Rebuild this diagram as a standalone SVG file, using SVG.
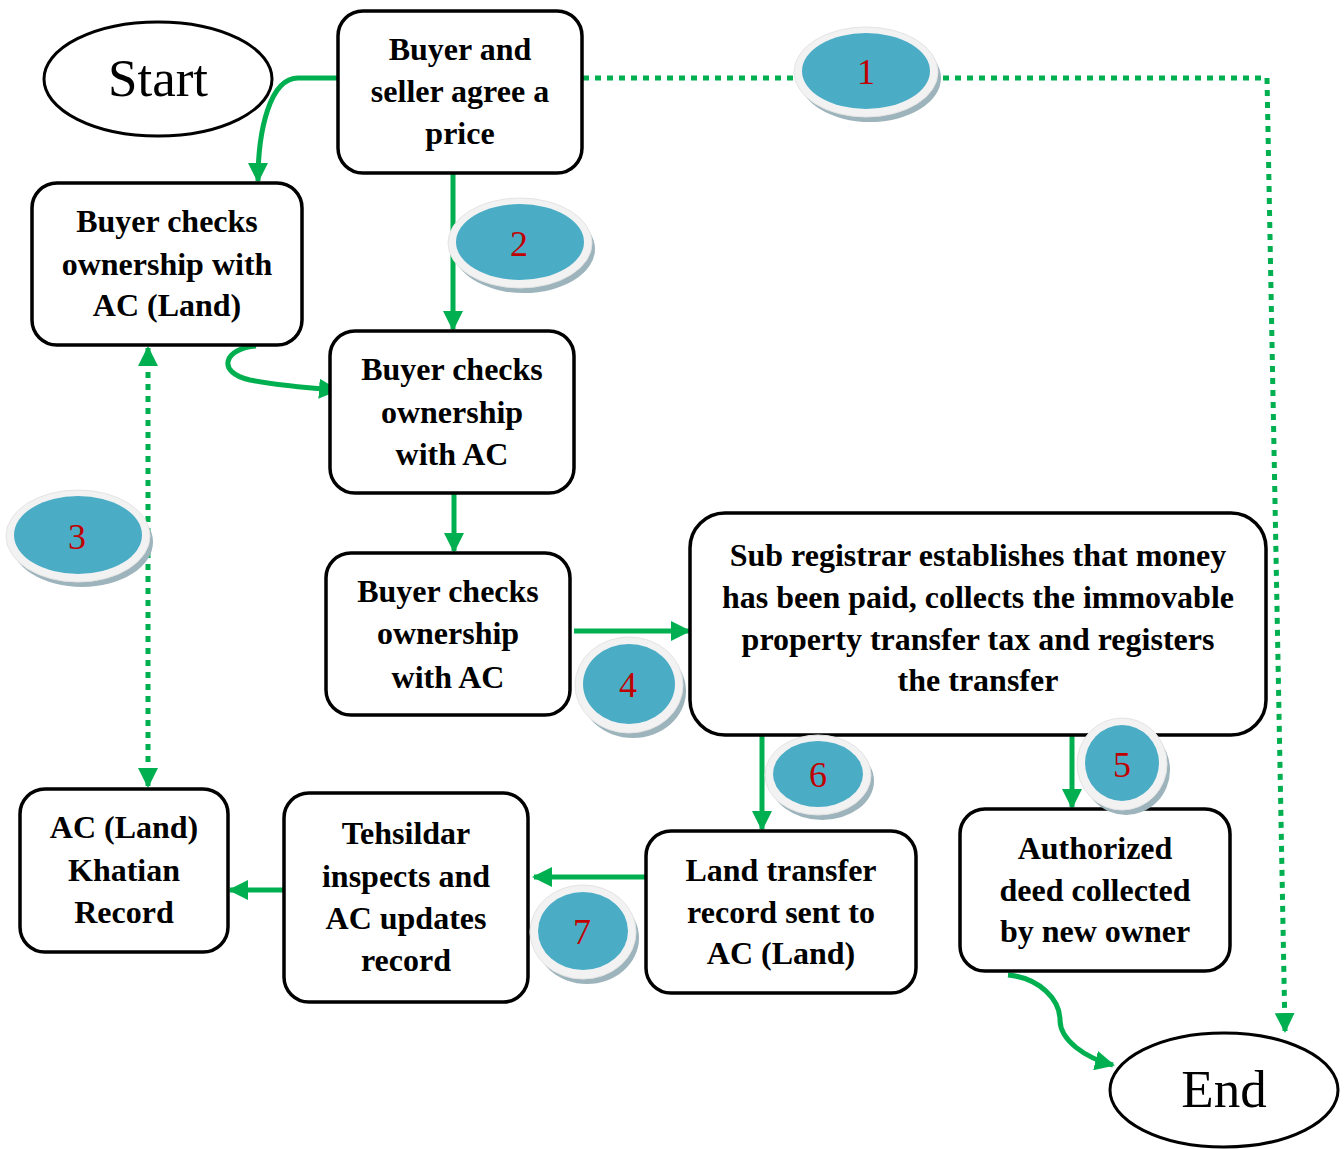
<svg xmlns="http://www.w3.org/2000/svg" width="1344" height="1149" viewBox="0 0 1344 1149">
<style>
.box{fill:#fff;stroke:#000;stroke-width:3.5}
.t{font-family:"Liberation Serif","Times New Roman",serif;font-weight:bold;font-size:32px;text-anchor:middle;fill:#000}
.big{font-family:"Liberation Serif","Times New Roman",serif;font-size:53px;text-anchor:middle;fill:#000}
.num{font-family:"Liberation Serif","Times New Roman",serif;font-size:36px;text-anchor:middle;fill:#C00000}
.g{fill:none;stroke:#00B050;stroke-width:5}
.d{fill:none;stroke:#00B050;stroke-width:5;stroke-dasharray:6 6}
.sh{fill:#9DB4BD}
.rim{fill:#F2F2F2;stroke:#E4E4E4;stroke-width:1}
.in{fill:#4BACC6}
</style>
<defs>
<marker id="a" viewBox="0 0 10 10" refX="9" refY="5" markerWidth="4" markerHeight="4" orient="auto-start-reverse" markerUnits="strokeWidth">
<path d="M0,0 L10,5 L0,10 z" fill="#00B050"/>
</marker>
</defs>

<g id="connectors">
<path class="g" d="M337,78 H298 C270,78 258,130 258,181" marker-end="url(#a)"/>
<path class="g" d="M453,173 V329" marker-end="url(#a)"/>
<path class="g" d="M256,346 C225,348 215,372 250,380 C280,386 310,388 337,390" marker-end="url(#a)"/>
<path class="g" d="M454,493 V551" marker-end="url(#a)"/>
<path class="g" d="M574,631 H689" marker-end="url(#a)"/>
<path class="g" d="M762,735 V829" marker-end="url(#a)"/>
<path class="g" d="M1072,735 V807" marker-end="url(#a)"/>
<path class="g" d="M646,877 H534" marker-end="url(#a)"/>
<path class="g" d="M306,890 H230" marker-end="url(#a)"/>
<path class="g" d="M1008,975 C1040,978 1060,1000 1060,1020 C1060,1040 1085,1058 1113,1065" marker-end="url(#a)"/>
<path class="d" d="M583,78 H1267 L1285,1031" marker-end="url(#a)"/>
<path class="d" d="M148,348 V786" marker-start="url(#a)" marker-end="url(#a)"/>
</g>

<g id="start">
<ellipse cx="158" cy="79" rx="114" ry="57" fill="#fff" stroke="#000" stroke-width="3"/>
<text class="big" x="158" y="96">Start</text>
</g>
<g id="end">
<ellipse cx="1224" cy="1090" rx="114" ry="57" fill="#fff" stroke="#000" stroke-width="3"/>
<text class="big" x="1224" y="1107">End</text>
</g>

<g id="agree">
<rect class="box" x="338" y="11" width="244" height="162" rx="25"/>
<text class="t" x="460" y="60">Buyer and</text>
<text class="t" x="460" y="102">seller agree a</text>
<text class="t" x="460" y="144">price</text>
</g>
<g id="checkLand">
<rect class="box" x="32" y="183" width="270" height="162" rx="25"/>
<text class="t" x="167" y="232">Buyer checks</text>
<text class="t" x="167" y="275">ownership with</text>
<text class="t" x="167" y="316">AC (Land)</text>
</g>
<g id="checkAC1">
<rect class="box" x="330" y="331" width="244" height="162" rx="25"/>
<text class="t" x="452" y="380">Buyer checks</text>
<text class="t" x="452" y="423">ownership</text>
<text class="t" x="452" y="465">with AC</text>
</g>
<g id="checkAC2">
<rect class="box" x="326" y="553" width="244" height="162" rx="25"/>
<text class="t" x="448" y="602">Buyer checks</text>
<text class="t" x="448" y="644">ownership</text>
<text class="t" x="448" y="688">with AC</text>
</g>
<g id="subregistrar">
<rect class="box" x="690" y="513" width="576" height="222" rx="35"/>
<text class="t" x="978" y="566">Sub registrar establishes that money</text>
<text class="t" x="978" y="608">has been paid, collects the immovable</text>
<text class="t" x="978" y="650">property transfer tax and registers</text>
<text class="t" x="978" y="691">the transfer</text>
</g>
<g id="khatian">
<rect class="box" x="20" y="789" width="208" height="163" rx="25"/>
<text class="t" x="124" y="838">AC (Land)</text>
<text class="t" x="124" y="881">Khatian</text>
<text class="t" x="124" y="923">Record</text>
</g>
<g id="tehsildar">
<rect class="box" x="284" y="793" width="244" height="209" rx="25"/>
<text class="t" x="406" y="844">Tehsildar</text>
<text class="t" x="406" y="887">inspects and</text>
<text class="t" x="406" y="929">AC updates</text>
<text class="t" x="406" y="971">record</text>
</g>
<g id="landtransfer">
<rect class="box" x="646" y="831" width="270" height="162" rx="25"/>
<text class="t" x="781" y="881">Land transfer</text>
<text class="t" x="781" y="923">record sent to</text>
<text class="t" x="781" y="964">AC (Land)</text>
</g>
<g id="authorized">
<rect class="box" x="960" y="809" width="270" height="162" rx="25"/>
<text class="t" x="1095" y="859">Authorized</text>
<text class="t" x="1095" y="901">deed collected</text>
<text class="t" x="1095" y="942">by new owner</text>
</g>

<g id="badge1">
<ellipse class="sh" cx="870" cy="78" rx="71" ry="44"/>
<ellipse class="rim" cx="866" cy="72" rx="72" ry="45"/>
<ellipse class="in" cx="866" cy="71" rx="64" ry="38"/>
<text class="num" x="866" y="84">1</text>
</g>
<g id="badge2">
<ellipse class="sh" cx="524" cy="249" rx="71" ry="44"/>
<ellipse class="rim" cx="520" cy="243" rx="72" ry="45"/>
<ellipse class="in" cx="520" cy="242" rx="64" ry="38"/>
<text class="num" x="519" y="256">2</text>
</g>
<g id="badge3">
<ellipse class="sh" cx="82" cy="542" rx="71" ry="45"/>
<ellipse class="rim" cx="78" cy="536" rx="72" ry="46"/>
<ellipse class="in" cx="78" cy="535" rx="64" ry="39"/>
<text class="num" x="77" y="549">3</text>
</g>
<g id="badge4">
<ellipse class="sh" cx="633" cy="691" rx="53" ry="47"/>
<ellipse class="rim" cx="629" cy="685" rx="54" ry="48"/>
<ellipse class="in" cx="629" cy="684" rx="46" ry="40"/>
<text class="num" x="628" y="697">4</text>
</g>
<g id="badge5">
<ellipse class="sh" cx="1126" cy="770" rx="44" ry="45"/>
<ellipse class="rim" cx="1122" cy="764" rx="45" ry="46"/>
<ellipse class="in" cx="1122" cy="763" rx="37" ry="38"/>
<text class="num" x="1122" y="777">5</text>
</g>
<g id="badge6">
<ellipse class="sh" cx="822" cy="781" rx="52" ry="39"/>
<ellipse class="rim" cx="818" cy="775" rx="53" ry="40"/>
<ellipse class="in" cx="818" cy="774" rx="45" ry="33"/>
<text class="num" x="818" y="787">6</text>
</g>
<g id="badge7">
<ellipse class="sh" cx="587" cy="938" rx="52" ry="46"/>
<ellipse class="rim" cx="583" cy="932" rx="53" ry="47"/>
<ellipse class="in" cx="583" cy="931" rx="45" ry="39"/>
<text class="num" x="582" y="944">7</text>
</g>
</svg>
